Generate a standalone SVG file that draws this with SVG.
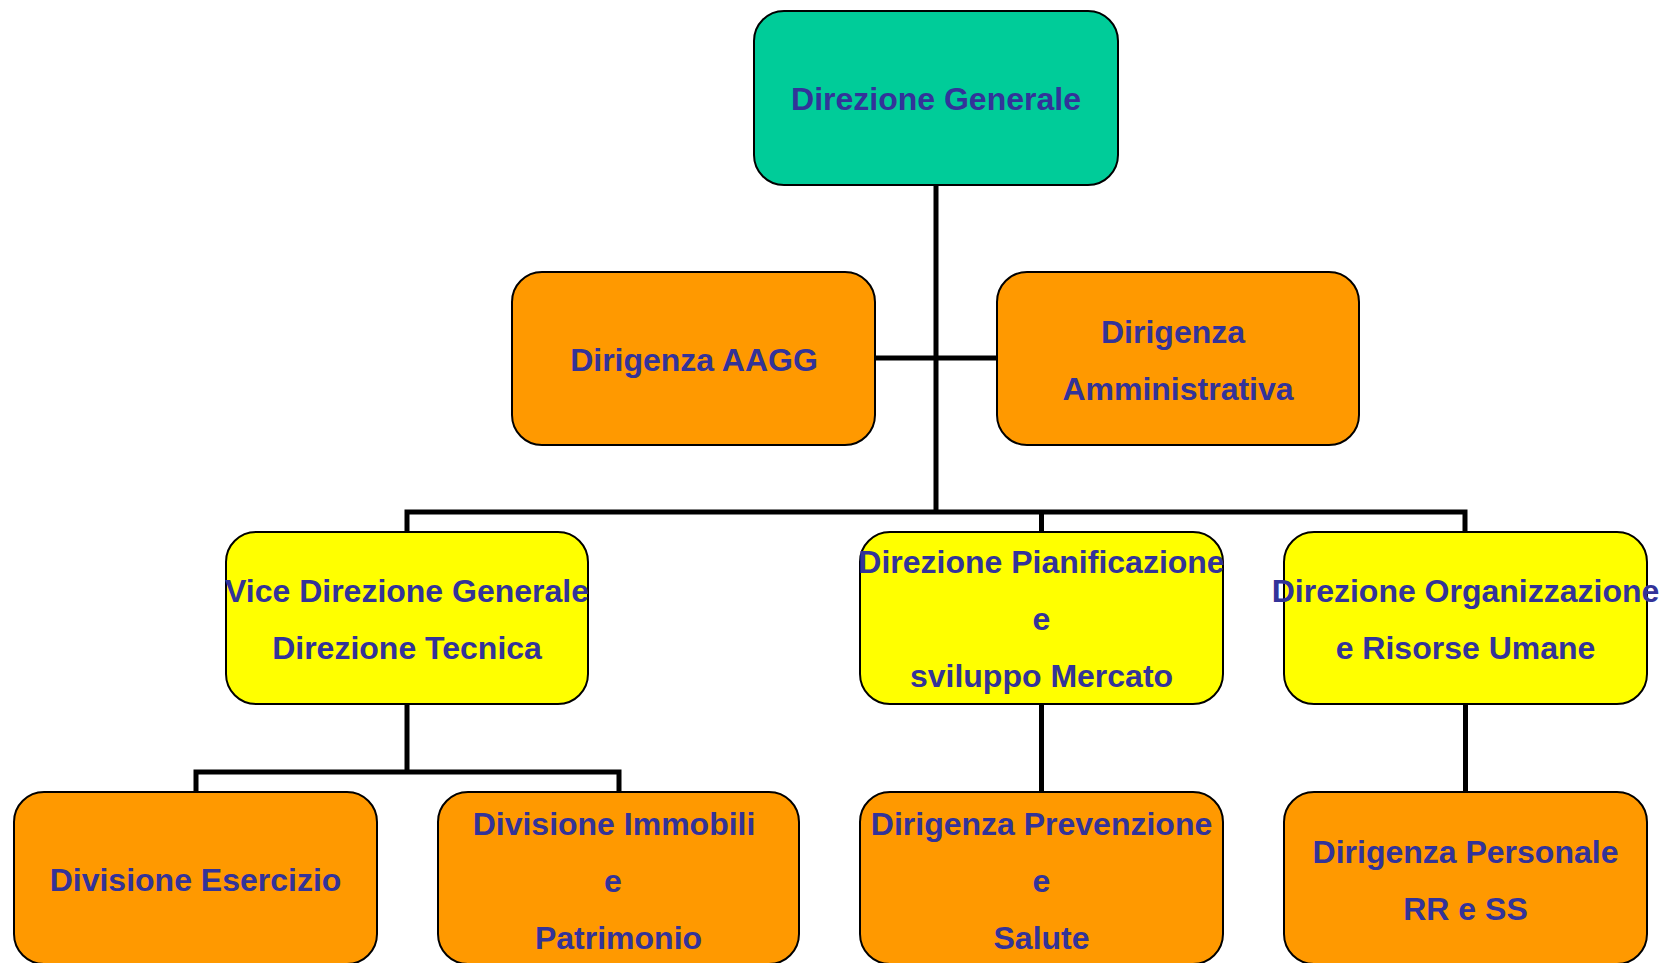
<svg xmlns="http://www.w3.org/2000/svg" width="1662" height="963" viewBox="0 0 1662 963">
<style>
.box{stroke:#000;stroke-width:2}
.g{fill:#00CC99}
.o{fill:#FF9900}
.y{fill:#FFFF00}
text{font-family:"Liberation Sans",Arial,sans-serif;font-weight:bold;font-size:32px;fill:#333399;text-anchor:middle}
.conn{stroke:#000;stroke-width:5;fill:none}
</style>
<rect width="1662" height="963" fill="#fff"/>
<g id="connectors">
<path class="conn" d="M936 185V512"/>
<path class="conn" d="M875 358H997"/>
<path class="conn" d="M407 532V512H1465V532"/>
<path class="conn" d="M1041.5 512V532"/>
<path class="conn" d="M407 704V772"/>
<path class="conn" d="M196 792V772H619V792"/>
<path class="conn" d="M1041.5 704V792"/>
<path class="conn" d="M1465.5 704V792"/>
</g>
<g id="n-direzione-generale">
<rect class="box g" x="754" y="11" width="364" height="174" rx="30"/>
<text x="936" y="110">Direzione Generale</text>
</g>
<g id="n-aagg">
<rect class="box o" x="512" y="272" width="363" height="173" rx="30"/>
<text x="694" y="371">Dirigenza AAGG</text>
</g>
<g id="n-amministrativa">
<rect class="box o" x="997" y="272" width="362" height="173" rx="30"/>
<text x="1173" y="343">Dirigenza</text>
<text x="1178" y="400">Amministrativa</text>
</g>
<g id="n-vice">
<rect class="box y" x="226" y="532" width="362" height="172" rx="30"/>
<text x="407" y="602">Vice Direzione Generale</text>
<text x="407" y="659">Direzione Tecnica</text>
</g>
<g id="n-pianificazione">
<rect class="box y" x="860" y="532" width="363" height="172" rx="30"/>
<text x="1041.5" y="573">Direzione Pianificazione</text>
<text x="1041.5" y="630">e</text>
<text x="1041.5" y="687">sviluppo Mercato</text>
</g>
<g id="n-organizzazione">
<rect class="box y" x="1284" y="532" width="363" height="172" rx="30"/>
<text x="1465.5" y="602">Direzione Organizzazione</text>
<text x="1465.5" y="659">e Risorse Umane</text>
</g>
<g id="n-esercizio">
<rect class="box o" x="14" y="792" width="363" height="172" rx="30"/>
<text x="195.5" y="891">Divisione Esercizio</text>
</g>
<g id="n-immobili">
<rect class="box o" x="438" y="792" width="361" height="172" rx="30"/>
<text x="614" y="835">Divisione Immobili</text>
<text x="613" y="892">e</text>
<text x="618.5" y="949">Patrimonio</text>
</g>
<g id="n-prevenzione">
<rect class="box o" x="860" y="792" width="363" height="172" rx="30"/>
<text x="1041.5" y="835">Dirigenza Prevenzione</text>
<text x="1041.5" y="892">e</text>
<text x="1041.5" y="949">Salute</text>
</g>
<g id="n-personale">
<rect class="box o" x="1284" y="792" width="363" height="172" rx="30"/>
<text x="1465.5" y="863">Dirigenza Personale</text>
<text x="1465.5" y="920">RR e SS</text>
</g>
</svg>
